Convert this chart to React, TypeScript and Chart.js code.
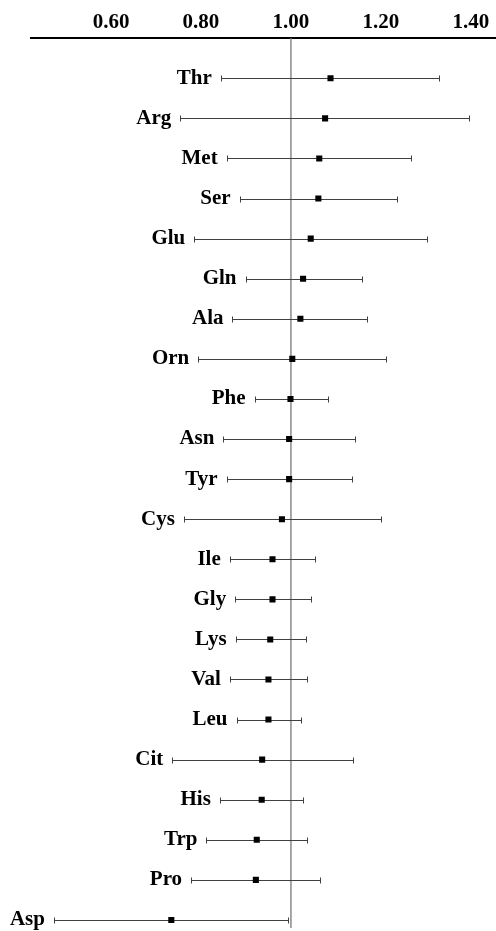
import React, { useEffect, useRef } from "react";
import { Chart, registerables } from "chart.js";

Chart.register(...registerables);

const CATEGORIES = [
  "Thr", "Arg", "Met", "Ser", "Glu", "Gln", "Ala", "Orn", "Phe", "Asn", "Tyr",
  "Cys", "Ile", "Gly", "Lys", "Val", "Leu", "Cit", "His", "Trp", "Pro", "Asp",
];
const ESTIMATES = [
  1.088, 1.076, 1.063, 1.061, 1.044, 1.027, 1.021, 1.003, 0.999, 0.996, 0.996,
  0.98, 0.959, 0.959, 0.954, 0.95, 0.95, 0.936, 0.935, 0.924, 0.922, 0.734,
];
const LOWER = [
  0.844, 0.754, 0.857, 0.886, 0.785, 0.899, 0.87, 0.794, 0.919, 0.85, 0.857,
  0.762, 0.864, 0.876, 0.877, 0.864, 0.879, 0.736, 0.842, 0.812, 0.778, 0.473,
];
const UPPER = [
  1.33, 1.396, 1.268, 1.236, 1.303, 1.158, 1.17, 1.211, 1.083, 1.143, 1.136,
  1.2, 1.054, 1.044, 1.033, 1.036, 1.023, 1.137, 1.027, 1.035, 1.065, 0.993,
];
const TICK_VALUES = [0.6, 0.8, 1.0, 1.2, 1.4];
const REF_VALUE = 1.0;

const FONT = "'Liberation Serif', 'Times New Roman', serif";

const forestPlugin = {
  id: "forest",
  beforeDatasetsDraw(chart: any) {
    const { ctx, chartArea, scales } = chart;
    const xs = scales.x;
    const ys = scales.y;
    ctx.save();
    // reference line
    const rx = xs.getPixelForValue(REF_VALUE);
    ctx.strokeStyle = "#8a8a8a";
    ctx.lineWidth = 1.5;
    ctx.beginPath();
    ctx.moveTo(rx, chartArea.top);
    ctx.lineTo(rx, chartArea.bottom);
    ctx.stroke();
    // error bars
    ctx.strokeStyle = "#404040";
    ctx.lineWidth = 1;
    for (let i = 0; i < CATEGORIES.length; i++) {
      const y = Math.round(ys.getPixelForValue(i)) + 0.5;
      const x1 = Math.round(xs.getPixelForValue(LOWER[i])) + 0.5;
      const x2 = Math.round(xs.getPixelForValue(UPPER[i])) + 0.5;
      ctx.beginPath();
      ctx.moveTo(x1, y);
      ctx.lineTo(x2, y);
      ctx.moveTo(x1, y - 3);
      ctx.lineTo(x1, y + 3);
      ctx.moveTo(x2, y - 3);
      ctx.lineTo(x2, y + 3);
      ctx.stroke();
    }
    ctx.restore();
  },
  afterDatasetsDraw(chart: any) {
    const { ctx, scales } = chart;
    const xs = scales.x;
    const ys = scales.y;
    ctx.save();
    ctx.fillStyle = "#000";
    ctx.font = `bold 21px ${FONT}`;
    ctx.textAlign = "right";
    ctx.textBaseline = "middle";
    for (let i = 0; i < CATEGORIES.length; i++) {
      const x = xs.getPixelForValue(LOWER[i]) - 9;
      const y = ys.getPixelForValue(i);
      ctx.fillText(CATEGORIES[i], x, y);
    }
    ctx.restore();
  },
};

export default function App() {
  const ref = useRef<HTMLCanvasElement | null>(null);
  useEffect(() => {
    if (!ref.current) return;
    const chart = new Chart(ref.current, {
      type: "scatter",
      data: {
        datasets: [
          {
            data: CATEGORIES.map((_, i) => ({ x: ESTIMATES[i], y: i })),
            pointStyle: "rect",
            pointRadius: 4.3,
            pointBorderWidth: 0,
            backgroundColor: "#000",
            borderColor: "#000",
          },
        ],
      },
      options: {
        animation: false,
        responsive: false,
        devicePixelRatio: 1,
        layout: { autoPadding: false, padding: { left: 31, right: 0, top: 7, bottom: 3 } },
        plugins: {
          legend: { display: false },
          tooltip: { enabled: false },
        },
        scales: {
          x: {
            type: "linear",
            position: "top",
            min: 0.422,
            max: 1.456,
            afterBuildTicks: (scale: any) => {
              scale.ticks = TICK_VALUES.map((v) => ({ value: v }));
            },
            afterFit: (scale: any) => {
              scale.paddingLeft = 0;
              scale.paddingRight = 0;
            },
            grid: { display: false, drawTicks: false },
            border: { display: true, color: "#000", width: 2 },
            ticks: {
              padding: 3,
              color: "#000",
              font: { family: FONT, size: 21, weight: "bold" },
              callback: (v: any) => Number(v).toFixed(2),
            },
          },
          y: {
            type: "linear",
            display: false,
            reverse: true,
            min: -1,
            max: 21.2,
          },
        },
      },
      plugins: [forestPlugin],
    });
    return () => chart.destroy();
  }, []);
  return (
    <div style={{ position: "absolute", left: 0, top: 0, width: 496, height: 931, background: "#fff" }}>
      <canvas ref={ref} width={496} height={931} style={{ display: "block" }} />
    </div>
  );
}
